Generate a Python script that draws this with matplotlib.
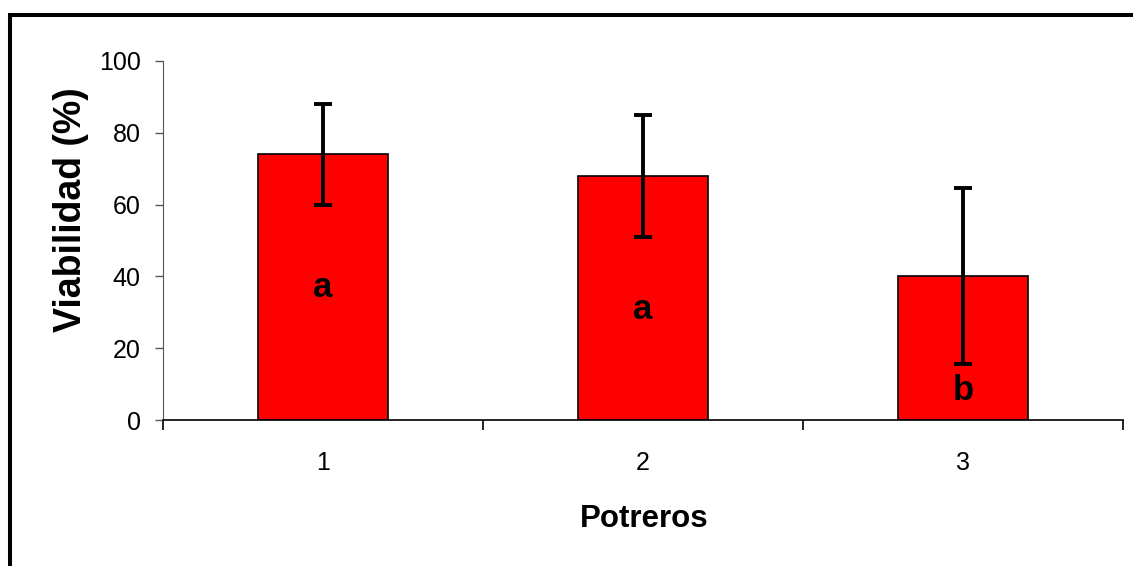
import matplotlib
matplotlib.use('Agg')
import matplotlib.pyplot as plt
from matplotlib.patches import Rectangle

# data
potreros = ['1', '2', '3']
viabilidad = [74.0, 68.0, 40.0]
error = [14.0, 17.0, 24.5]
letras = ['a', 'a', 'b']
letra_y = [34.3, 28.0, 5.6]

plt.rcParams['font.family'] = ['Liberation Sans', 'DejaVu Sans']

fig = plt.figure(figsize=(11.33, 5.66), dpi=100)
ax = fig.add_axes([163/1133, 1 - 420/566, 960/1133, 359/566])

x = list(range(len(potreros)))
ax.bar(x, viabilidad, width=0.406, color='#ff0000', edgecolor='black',
       linewidth=1.2, zorder=2)
ax.errorbar(x, viabilidad, yerr=error, fmt='none', ecolor='black',
            elinewidth=2.8, capsize=6.5, capthick=2.8, zorder=3)
for xi, yi, t in zip(x, letra_y, letras):
    ax.text(xi, yi, t, ha='center', va='baseline', fontsize=25,
            fontweight='bold', zorder=4)

ax.set_xlim(-0.5, 2.5)
ax.set_ylim(0, 100)
ax.set_yticks(range(0, 101, 20))
ax.tick_params(axis='y', labelsize=18, length=6, width=1, color='#555555', pad=10)

# ticks on category boundaries, labels centred between them
ax.set_xticks([-0.5, 0.5, 1.5, 2.5])
ax.set_xticklabels([])
ax.set_xticks(x, minor=True)
ax.set_xticklabels(potreros, minor=True)
ax.tick_params(axis='x', which='major', length=7, width=1.2)
ax.tick_params(axis='x', which='minor', length=0, labelsize=18, pad=22)

for s in ['top', 'right']:
    ax.spines[s].set_visible(False)
ax.spines['left'].set_color('#555555')
ax.spines['bottom'].set_linewidth(1.2)

ax.set_xlabel('Potreros', fontsize=22.5, fontweight='bold')
ax.xaxis.set_label_coords(0.501, -0.235)
ax.set_ylabel('Viabilidad (%)', fontsize=27, fontweight='bold')
ax.yaxis.set_label_coords(-0.077, 0.585)

# thick frame round the chart area (runs off the right and bottom edge)
frame = Rectangle((9.5/1133, -0.05), 1.1, 1.05 - 14.7/566,
                  transform=fig.transFigure, fill=False,
                  edgecolor='black', linewidth=2.9, clip_on=False)
fig.patches.append(frame)

fig.savefig('out.png', dpi=100)
